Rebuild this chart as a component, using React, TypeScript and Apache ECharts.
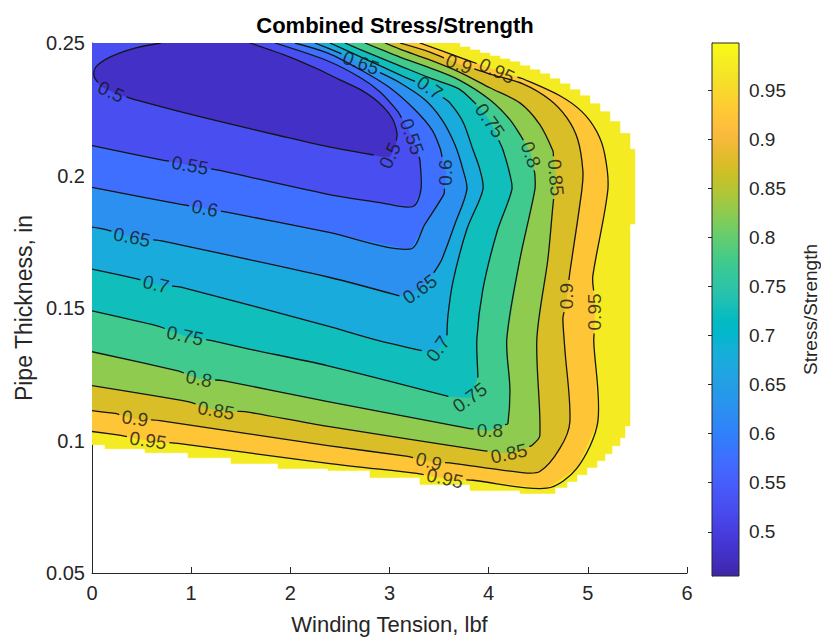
import React, { useEffect, useRef } from "react";
import * as echarts from "echarts";

const FONT = '"Liberation Sans", Arial, Helvetica, sans-serif';

// Contour levels (Stress/Strength)
const levels = [0.5, 0.55, 0.6, 0.65, 0.7, 0.75, 0.8, 0.85, 0.9, 0.95];

// Contour polylines: [winding tension, pipe thickness]
const c050 = [[0.696,0.25],[0.433,0.2481],[0.181,0.2447],[0.040,0.2410],[0.020,0.2376],[0.081,0.2338],[0.232,0.2312],[0.433,0.2286],[0.887,0.2241],[1.391,0.2195],[1.895,0.2150],[2.379,0.2109],[2.933,0.2071],[3.004,0.2071],[3.065,0.2117],[3.075,0.2162],[3.024,0.2218],[2.883,0.2278],[2.712,0.2323],[2.500,0.2361],[2.298,0.2398],[1.996,0.2447],[1.593,0.25]];
const c055 = [[1.845,0.25],[2.379,0.2432],[2.712,0.2368],[2.903,0.2316],[3.085,0.2241],[3.226,0.2147],[3.306,0.2060],[3.317,0.1947],[3.236,0.1883],[2.903,0.1898],[2.379,0.1929],[1.290,0.2019],[0.685,0.2060],[0,0.2113]];
const c060 = [[2.046,0.25],[2.379,0.2462],[2.712,0.2398],[3.004,0.2331],[3.256,0.2248],[3.427,0.2173],[3.508,0.2105],[3.569,0.2011],[3.548,0.1929],[3.357,0.1816],[3.206,0.1722],[2.379,0.1786],[1.371,0.1861],[0.897,0.1891],[0,0.1955]];
const c065 = [[2.248,0.25],[2.500,0.2462],[2.712,0.2425],[3.105,0.2350],[3.357,0.2286],[3.528,0.2211],[3.659,0.2117],[3.740,0.2023],[3.780,0.1947],[3.659,0.1816],[3.528,0.1684],[3.458,0.1639],[3.306,0.1571],[3.105,0.1545],[2.379,0.1617],[0.716,0.1752],[0.403,0.1767],[0.131,0.1797],[0,0.1805]];
const c070 = [[2.399,0.25],[2.712,0.2447],[3.105,0.2380],[3.407,0.2331],[3.609,0.2274],[3.740,0.2203],[3.841,0.2098],[3.911,0.2023],[3.942,0.1947],[3.780,0.1797],[3.639,0.1598],[3.589,0.1470],[3.579,0.1395],[3.488,0.1346],[3.377,0.1335],[2.833,0.1383],[2.379,0.1432],[0.897,0.1579],[0.645,0.1590],[0.464,0.1609],[0,0.1647]];
const c075 = [[2.550,0.25],[2.712,0.2474],[3.105,0.2414],[3.407,0.2368],[3.700,0.2327],[3.861,0.2274],[4.012,0.2207],[4.143,0.2098],[4.214,0.2004],[4.234,0.1947],[4.083,0.1786],[3.942,0.1571],[3.881,0.1383],[3.891,0.1241],[3.810,0.1162],[3.609,0.1165],[2.379,0.1282],[1.573,0.1346],[1.220,0.1376],[0.938,0.1395],[0.665,0.1432],[0,0.1489]];
const c080 = [[2.752,0.25],[3.105,0.2447],[3.407,0.2406],[3.700,0.2361],[4.012,0.2286],[4.214,0.2211],[4.335,0.2143],[4.425,0.2079],[4.466,0.2004],[4.466,0.1947],[4.315,0.1684],[4.183,0.1383],[4.214,0.1196],[4.194,0.1064],[4.012,0.1038],[3.810,0.1045],[2.379,0.1147],[1.321,0.1226],[1.079,0.1233],[0.867,0.1263],[0,0.1335]];
const c085 = [[2.954,0.25],[3.105,0.2477],[3.407,0.2436],[3.700,0.2391],[4.012,0.2331],[4.315,0.2274],[4.516,0.2192],[4.647,0.2094],[4.677,0.1992],[4.647,0.1883],[4.597,0.1684],[4.486,0.1383],[4.516,0.1019],[4.435,0.0981],[4.204,0.0951],[3.942,0.0962],[2.379,0.1053],[1.542,0.1109],[1.250,0.1113],[0.968,0.1147],[0,0.1207]];
const c090 = [[3.105,0.25],[3.407,0.2466],[3.700,0.2421],[4.012,0.2383],[4.345,0.2346],[4.617,0.2286],[4.788,0.2218],[4.899,0.2135],[4.950,0.2019],[4.940,0.1947],[4.819,0.1635],[4.788,0.1545],[4.748,0.1459],[4.768,0.1346],[4.819,0.1071],[4.718,0.0970],[4.516,0.0883],[4.315,0.0880],[3.639,0.0914],[3.397,0.0921],[3.185,0.0940],[2.379,0.0981],[0.685,0.1075],[0.433,0.1083],[0.232,0.1102],[0,0.1113]];
const c095 = [[3.306,0.25],[3.700,0.2447],[4.083,0.2395],[4.345,0.2365],[4.718,0.2301],[4.940,0.2241],[5.091,0.2165],[5.171,0.2079],[5.202,0.1947],[5.050,0.1620],[5.071,0.1485],[5.060,0.1372],[5.101,0.1071],[4.889,0.0895],[4.587,0.0820],[3.841,0.0850],[3.558,0.0857],[3.276,0.0876],[2.379,0.0914],[0.867,0.0989],[0.565,0.1000],[0.292,0.1019],[0,0.1034]];

// Edge of the computed region (stair-stepped, outside it the plot is blank)
const regionEdge = [[3.711,0.25],[3.711,0.2485],[3.812,0.2485],[3.812,0.2474],[3.912,0.2474],[3.912,0.2462],[4.013,0.2462],[4.013,0.2451],[4.114,0.2451],[4.114,0.2440],[4.215,0.2440],[4.215,0.2429],[4.316,0.2429],[4.316,0.2414],[4.417,0.2414],[4.417,0.2399],[4.518,0.2399],[4.518,0.2384],[4.618,0.2384],[4.618,0.2365],[4.719,0.2365],[4.719,0.2346],[4.820,0.2346],[4.820,0.2324],[4.921,0.2324],[4.921,0.2301],[5.022,0.2301],[5.022,0.2271],[5.123,0.2271],[5.123,0.2241],[5.223,0.2241],[5.223,0.2204],[5.324,0.2204],[5.324,0.2159],[5.425,0.2159],[5.425,0.2099],[5.475,0.2099],[5.475,0.1817],[5.425,0.1817],[5.425,0.1055],[5.375,0.1055],[5.375,0.1010],[5.324,0.1010],[5.324,0.0980],[5.244,0.0980],[5.244,0.0950],[5.173,0.0950],[5.173,0.0924],[5.092,0.0924],[5.092,0.0898],[4.991,0.0898],[4.991,0.0871],[4.891,0.0871],[4.891,0.0845],[4.790,0.0845],[4.790,0.0823],[4.669,0.0823],[4.669,0.0800],[4.316,0.0800],[4.316,0.0811],[3.812,0.0811],[3.812,0.0834],[3.307,0.0834],[3.307,0.0860],[2.803,0.0860],[2.803,0.0887],[2.380,0.0887],[2.380,0.0894],[1.876,0.0894],[1.876,0.0913],[1.402,0.0913],[1.402,0.0935],[0.968,0.0935],[0.968,0.0954],[0.534,0.0954],[0.534,0.0969],[0.131,0.0969],[0.131,0.0984],[0,0.0984]];

// Inline contour labels: [x, y, text angle]
const l050 = [[0.192,0.2316,-25],[3.004,0.2075,65]];
const l055 = [[3.226,0.2147,-70],[0.988,0.2038,-10]];
const l060 = [[3.569,0.2011,90],[1.139,0.1876,-11]];
const l065 = [[2.712,0.2425,-20],[3.306,0.1571,35],[0.403,0.1767,-11]];
const l070 = [[3.407,0.2331,-35],[3.488,0.1346,55],[0.645,0.1590,-13]];
const l075 = [[4.012,0.2207,-55],[3.810,0.1162,35],[0.938,0.1395,-12]];
const l080 = [[4.425,0.2079,-70],[4.012,0.1038,0],[1.079,0.1233,-11]];
const l085 = [[4.677,0.1992,-85],[4.204,0.0951,12],[1.250,0.1113,-10]];
const l090 = [[3.700,0.2421,-20],[4.788,0.1545,90],[3.397,0.0921,-14],[0.433,0.1083,-8]];
const l095 = [[4.083,0.2395,-25],[5.071,0.1485,90],[3.558,0.0857,-12],[0.565,0.1000,-8]];

const colorbarTicks = [0.5, 0.55, 0.6, 0.65, 0.7, 0.75, 0.8, 0.85, 0.9, 0.95];
const colorMin = 0.455;
const colorMax = 0.998;

const contours = [c050, c055, c060, c065, c070, c075, c080, c085, c090, c095];
const labelSets = [l050, l055, l060, l065, l070, l075, l080, l085, l090, l095];

// parula colormap (64 entries)
const PARULA = ["#3E26A8","#402AB4","#422EC0","#4332CB","#4537D5","#463CDE","#4741E5","#4747EB","#484DF0","#4852F4","#4758F8","#465EFB","#4563FD","#4269FE","#3E6FFF","#3875FE","#327CFC","#2F81FA","#2E87F7","#2D8CF3","#2B91EF","#2797EB","#259BE8","#23A0E5","#20A5E3","#1CA9DF","#18ADDB","#12B1D6","#08B5D0","#01B8CA","#02BAC3","#0BBDBD","#19BFB6","#24C1AE","#2CC4A7","#31C69F","#37C897","#3FCA8E","#4ACB84","#57CC7A","#64CD6F","#72CD64","#81CC59","#8FCB4E","#9DC943","#ABC739","#B9C431","#C5C22A","#D1BF27","#DCBD29","#E6BB2D","#F0BA36","#F8BA3D","#FEBE3C","#FEC338","#FEC934","#FCCF30","#FAD62D","#F7DC2A","#F5E327","#F5E924","#F6EF20","#F7F51B","#F9FB15"];

const LABEL_SIZE = 19;

function hexToRgb(h: string) {
  return [parseInt(h.slice(1, 3), 16), parseInt(h.slice(3, 5), 16), parseInt(h.slice(5, 7), 16)];
}
function parula(v: number) {
  let t = (v - colorMin) / (colorMax - colorMin);
  t = Math.max(0, Math.min(1, t)) * (PARULA.length - 1);
  const i = Math.min(PARULA.length - 2, Math.floor(t));
  const f = t - i;
  const a = hexToRgb(PARULA[i]);
  const b = hexToRgb(PARULA[i + 1]);
  const c = a.map((x, k) => Math.round(x + (b[k] - x) * f));
  return `rgb(${c[0]},${c[1]},${c[2]})`;
}

// Split a pixel polyline so that it leaves gaps under the inline labels.
function cutUnderLabels(pts: number[][], circles: { c: number[]; r: number }[]) {
  const out: number[][][] = [];
  let cur: number[][] = [];
  const inside = (p: number[]) => circles.some(({ c, r }) => (p[0] - c[0]) ** 2 + (p[1] - c[1]) ** 2 < r * r);
  for (let i = 0; i < pts.length - 1; i++) {
    const a = pts[i];
    const b = pts[i + 1];
    const dx = b[0] - a[0];
    const dy = b[1] - a[1];
    const cuts = [0, 1];
    for (const { c, r } of circles) {
      const fx = a[0] - c[0];
      const fy = a[1] - c[1];
      const A = dx * dx + dy * dy;
      const B = 2 * (fx * dx + fy * dy);
      const C = fx * fx + fy * fy - r * r;
      const disc = B * B - 4 * A * C;
      if (A > 0 && disc > 0) {
        const s = Math.sqrt(disc);
        const t1 = (-B - s) / (2 * A);
        const t2 = (-B + s) / (2 * A);
        if (t1 > 0 && t1 < 1) cuts.push(t1);
        if (t2 > 0 && t2 < 1) cuts.push(t2);
      }
    }
    cuts.sort((u, v) => u - v);
    for (let j = 0; j < cuts.length - 1; j++) {
      const t0 = cuts[j];
      const t1 = cuts[j + 1];
      if (t1 - t0 < 1e-9) continue;
      const tm = (t0 + t1) / 2;
      const pm = [a[0] + dx * tm, a[1] + dy * tm];
      if (inside(pm)) {
        if (cur.length > 1) out.push(cur);
        cur = [];
      } else {
        if (cur.length === 0) cur.push([a[0] + dx * t0, a[1] + dy * t0]);
        cur.push([a[0] + dx * t1, a[1] + dy * t1]);
      }
    }
  }
  if (cur.length > 1) out.push(cur);
  return out;
}

function textHalfWidth(s: string) {
  let w = 0;
  for (const ch of s) w += ch === "." ? 0.278 : 0.556;
  return (w * LABEL_SIZE) / 2;
}

export default function App() {
  const ref = useRef<HTMLDivElement>(null);
  useEffect(() => {
    if (!ref.current) return;
    const chart = echarts.init(ref.current, null, { renderer: "svg" });

    const bands: { poly: number[][]; v: number }[] = [];
    bands.push({ poly: [[0, 0.25], ...regionEdge], v: 0.975 });
    for (let k = levels.length - 1; k >= 1; k--) {
      bands.push({ poly: [...contours[k], [0, 0.25]], v: levels[k] - 0.025 });
    }
    bands.push({ poly: contours[0], v: 0.477 });

    const labelData: any[] = [];
    labelSets.forEach((set, k) => {
      set.forEach(([x, y, r]) => {
        labelData.push({ name: String(levels[k]), value: [x, y], label: { rotate: r } });
      });
    });

    const stops = PARULA.map((c, i) => ({ offset: i / (PARULA.length - 1), color: PARULA[PARULA.length - 1 - i] }));

    const axisColor = "#262626";

    const series: any[] = [
      {
        type: "custom",
        xAxisIndex: 0,
        yAxisIndex: 0,
        clip: true,
        silent: true,
        z: 1,
        data: bands.map(() => [0, 0.25]),
        renderItem: (params: any, api: any) => {
          const b = bands[params.dataIndex];
          return {
            type: "polygon",
            shape: { points: b.poly.map((p) => api.coord(p)) },
            style: { fill: parula(b.v), stroke: parula(b.v), lineWidth: 0.5 },
          };
        },
      },
      {
        type: "custom",
        xAxisIndex: 0,
        yAxisIndex: 0,
        clip: true,
        silent: true,
        z: 3,
        data: contours.map(() => [0, 0.25]),
        renderItem: (params: any, api: any) => {
          const k = params.dataIndex;
          const pts = contours[k].map((p) => api.coord(p));
          const hw = textHalfWidth(String(levels[k])) + 3;
          const circles = labelSets[k].map((l) => ({ c: api.coord([l[0], l[1]]), r: hw }));
          const parts = cutUnderLabels(pts, circles);
          return {
            type: "group",
            children: parts.map((p) => ({
              type: "polyline",
              shape: { points: p, smooth: 0.3 },
              style: { stroke: "#151515", lineWidth: 1.3, fill: "none" },
            })),
          };
        },
      },
      {
        type: "scatter",
        xAxisIndex: 0,
        yAxisIndex: 0,
        data: labelData,
        symbolSize: 1,
        itemStyle: { color: "rgba(0,0,0,0)" },
        silent: true,
        z: 5,
        label: {
          show: true,
          position: "inside",
          formatter: "{b}",
          fontSize: LABEL_SIZE,
          color: "#151515",
          fontFamily: FONT,
        },
      },
      {
        type: "custom",
        xAxisIndex: 1,
        yAxisIndex: 1,
        silent: true,
        data: [[0.5, 0.7]],
        renderItem: (params: any, api: any) => {
          const p0 = api.coord([0, colorMax]);
          const p1 = api.coord([1, colorMin]);
          return {
            type: "rect",
            shape: { x: p0[0], y: p0[1], width: p1[0] - p0[0], height: p1[1] - p0[1] },
            style: {
              fill: new echarts.graphic.LinearGradient(0, 0, 0, 1, stops),
              stroke: axisColor,
              lineWidth: 1,
            },
          };
        },
      },
    ];

    const option: any = {
      animation: false,
      backgroundColor: "#ffffff",
      title: {
        text: "Combined Stress/Strength",
        left: 390,
        top: 9,
        textAlign: "center",
        textStyle: { fontSize: 22, fontWeight: "bold", color: "#000", fontFamily: FONT },
      },
      grid: [
        { left: 92, top: 43, width: 595, height: 533, containLabel: false },
        { left: 712, top: 43, width: 30, height: 533, containLabel: false },
      ],
      xAxis: [
        {
          type: "value",
          gridIndex: 0,
          min: 0,
          max: 6,
          interval: 1,
          name: "Winding Tension, lbf",
          nameLocation: "middle",
          nameGap: 40,
          nameTextStyle: { fontSize: 22, color: axisColor, fontFamily: FONT },
          axisLine: { show: true, lineStyle: { color: axisColor, width: 1 } },
          axisTick: { show: true, inside: true, length: 6, lineStyle: { color: axisColor } },
          axisLabel: { color: axisColor, fontSize: 20, margin: 10, fontFamily: FONT },
          splitLine: { show: false },
        },
        { type: "value", gridIndex: 1, min: 0, max: 1, show: false },
      ],
      yAxis: [
        {
          type: "value",
          gridIndex: 0,
          min: 0.05,
          max: 0.25,
          interval: 0.05,
          name: "Pipe Thickness, in",
          nameLocation: "middle",
          nameGap: 56,
          nameTextStyle: { fontSize: 23, color: axisColor, fontFamily: FONT },
          axisLine: { show: true, lineStyle: { color: axisColor, width: 1 } },
          axisTick: { show: true, inside: true, length: 6, lineStyle: { color: axisColor } },
          axisLabel: { color: axisColor, fontSize: 20, margin: 7, fontFamily: FONT },
          splitLine: { show: false },
        },
        {
          type: "value",
          gridIndex: 1,
          min: colorMin,
          max: colorMax,
          position: "right",
          name: "Stress/Strength",
          nameLocation: "middle",
          nameRotate: 90,
          nameGap: 62,
          nameTextStyle: { fontSize: 19, color: axisColor, fontFamily: FONT },
          axisLine: { show: true, lineStyle: { color: axisColor, width: 1 } },
          axisTick: { show: true, inside: true, length: 4, lineStyle: { color: axisColor }, customValues: colorbarTicks },
          axisLabel: { color: axisColor, fontSize: 19, margin: 10, fontFamily: FONT, customValues: colorbarTicks },
          splitLine: { show: false },
        },
      ],
      series,
    };
    chart.setOption(option);
    return () => chart.dispose();
  }, []);
  return <div ref={ref} style={{ position: "fixed", left: 0, top: 0, width: 821, height: 640 }} />;
}
